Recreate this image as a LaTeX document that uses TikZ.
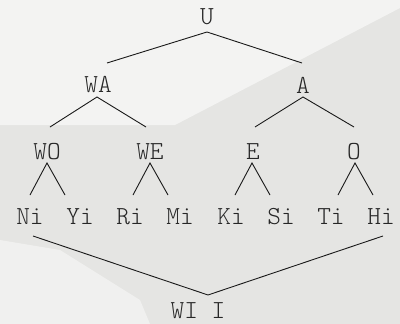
\documentclass[tikz,border=0pt]{standalone}
\begin{document}
\begin{tikzpicture}[x=1pt,y=-1pt,
  lbl/.style={font=\ttfamily\fontseries{l}\selectfont\fontsize{26}{30}\selectfont, inner sep=0pt, text=black!85},
  edge/.style={draw=black!90, line width=0.9pt}]
\useasboundingbox (0,0) rectangle (400,324);
\fill[fill={rgb,255:red,229;green,229;blue,227}] (0,0) rectangle (400,324);
\fill[fill={rgb,255:red,243;green,243;blue,242}] (0,0) -- (400,0) -- (400,8) -- (175,125) -- (0,125) -- cycle;
\fill[fill={rgb,255:red,240;green,240;blue,239}] (0,240) -- (60,250) -- (140,300) -- (150,324) -- (0,324) -- cycle;
% nodes
\node[lbl] (U)  at (207,17) {U};
\node[lbl] (WA) at (98,85) {WA};
\node[lbl] (A)  at (303,85) {A};
\node[lbl] (WO) at (47,152) {WO};
\node[lbl] (WE) at (150,152) {WE};
\node[lbl] (E)  at (253,152) {E};
\node[lbl] (O)  at (354,152) {O};
\node[lbl] (Ni) at (30,217) {Ni};
\node[lbl] (Yi) at (80,217) {Yi};
\node[lbl] (Ri) at (130,217) {Ri};
\node[lbl] (Mi) at (180,217) {Mi};
\node[lbl] (Ki) at (231,217) {Ki};
\node[lbl] (Si) at (281,217) {Si};
\node[lbl] (Ti) at (331,217) {Ti};
\node[lbl] (Hi) at (381,217) {Hi};
\node[lbl] (WII) at (198,311) {WI I};
% connectors
\draw[edge] ([shift={(9,-22)}]WA.center) -- ([shift={(0,15)}]U.center) -- ([shift={(-1,-22)}]A.center);
\draw[edge] ([shift={(3,-25)}]WO.center) -- ([shift={(-1,12)}]WA.center) -- ([shift={(-4,-25)}]WE.center);
\draw[edge] ([shift={(2,-25)}]E.center) -- ([shift={(0,12)}]A.center) -- ([shift={(0,-25)}]O.center);
\draw[edge] ([shift={(0,-22)}]Ni.center) -- ([shift={(0,11)}]WO.center) -- ([shift={(-15,-22)}]Yi.center);
\draw[edge] ([shift={(3,-22)}]Ri.center) -- ([shift={(0,11)}]WE.center) -- ([shift={(-12,-22)}]Mi.center);
\draw[edge] ([shift={(4,-22)}]Ki.center) -- ([shift={(-1,11)}]E.center) -- ([shift={(-11,-22)}]Si.center);
\draw[edge] ([shift={(7,-22)}]Ti.center) -- ([shift={(1,11)}]O.center) -- ([shift={(-8,-22)}]Hi.center);
\draw[edge] ([shift={(3,19)}]Ni.center) -- ([shift={(10,-16)}]WII.center) -- ([shift={(2,19)}]Hi.center);
\end{tikzpicture}
\end{document}
